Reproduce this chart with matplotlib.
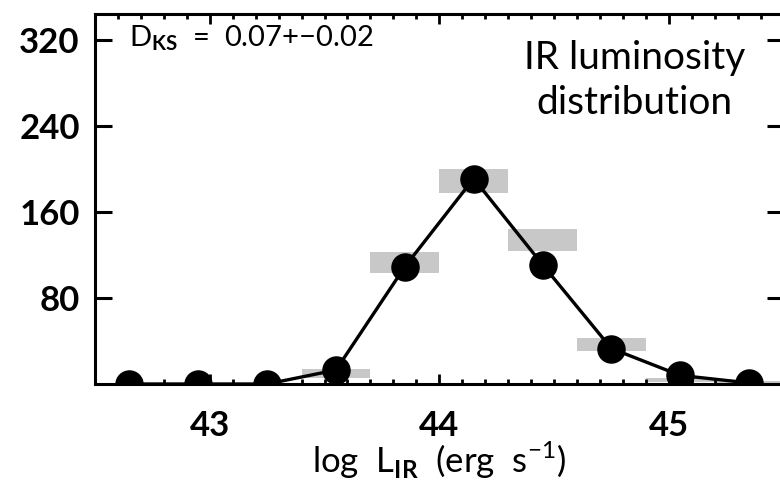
import numpy as np
import matplotlib
matplotlib.use("Agg")
import matplotlib.pyplot as plt
from matplotlib.ticker import MultipleLocator

plt.rcParams['font.family'] = ['Lato', 'DejaVu Sans']
plt.rcParams['mathtext.fontset'] = 'custom'
plt.rcParams['mathtext.rm'] = 'Lato'
plt.rcParams['mathtext.bf'] = 'Lato:bold'

# --- histogram of log L_IR (bins of 0.3 dex) ---
bin_centers = [42.65, 42.95, 43.25, 43.55, 43.85, 44.15, 44.45, 44.75, 45.05, 45.35]
counts = [0, 0, 0, 13, 109, 191, 111, 33, 8, 1]

# matched sample: mean and 1-sigma spread per bin (grey boxes)
model_mean = [0, 0, 0, 10, 113, 189, 134, 37, 4, 1.5]
model_err = [0, 0, 0, 4, 10, 11, 10, 6, 2, 1]

y_ticks = [80, 160, 240, 320]
x_ticks = [43, 44, 45]

fig = plt.figure(figsize=(7.8, 4.84), dpi=100)
ax = fig.add_axes([95/780, 1 - 384/484, 688.5/780, 370/484])

lo = np.array(model_mean) - np.array(model_err)
ax.bar(bin_centers, 2*np.array(model_err), bottom=lo, width=0.3,
       color='#c8c8c8', edgecolor='none', zorder=1)

ax.plot(bin_centers, counts, color='black', lw=2.4, marker='o',
        markersize=19.5, zorder=3)

ax.set_xlim(42.5, 45.5)
ax.set_ylim(0, 344)

ax.set_xticks(x_ticks)
ax.xaxis.set_minor_locator(MultipleLocator(0.1))
ax.set_yticks(y_ticks)

ax.tick_params(axis='x', which='major', direction='in', top=True, length=7,
               width=2, pad=19, labelsize=25)
ax.tick_params(axis='x', which='minor', direction='in', top=True, length=3.5, width=2)
ax.tick_params(axis='y', which='major', direction='in', right=True, length=12,
               width=2.2, pad=11, labelsize=25)
for lab in ax.get_xticklabels() + ax.get_yticklabels():
    lab.set_fontweight('bold')

for s in ax.spines.values():
    s.set_linewidth(2.2)

ax.set_xlabel(r'log  L$_{\mathbf{IR}}$  (erg  s$^{-1}$)', fontsize=25, labelpad=-2)

ax.text(0.05, 0.975, r'D$_{\mathbf{KS}}$  =  0.07+$-$0.02', transform=ax.transAxes,
        ha='left', va='top', fontsize=21)
ax.text(0.784, 0.93, 'IR luminosity\ndistribution', transform=ax.transAxes,
        ha='center', va='top', fontsize=28, linespacing=1.3)

fig.savefig('out.png', dpi=100)
